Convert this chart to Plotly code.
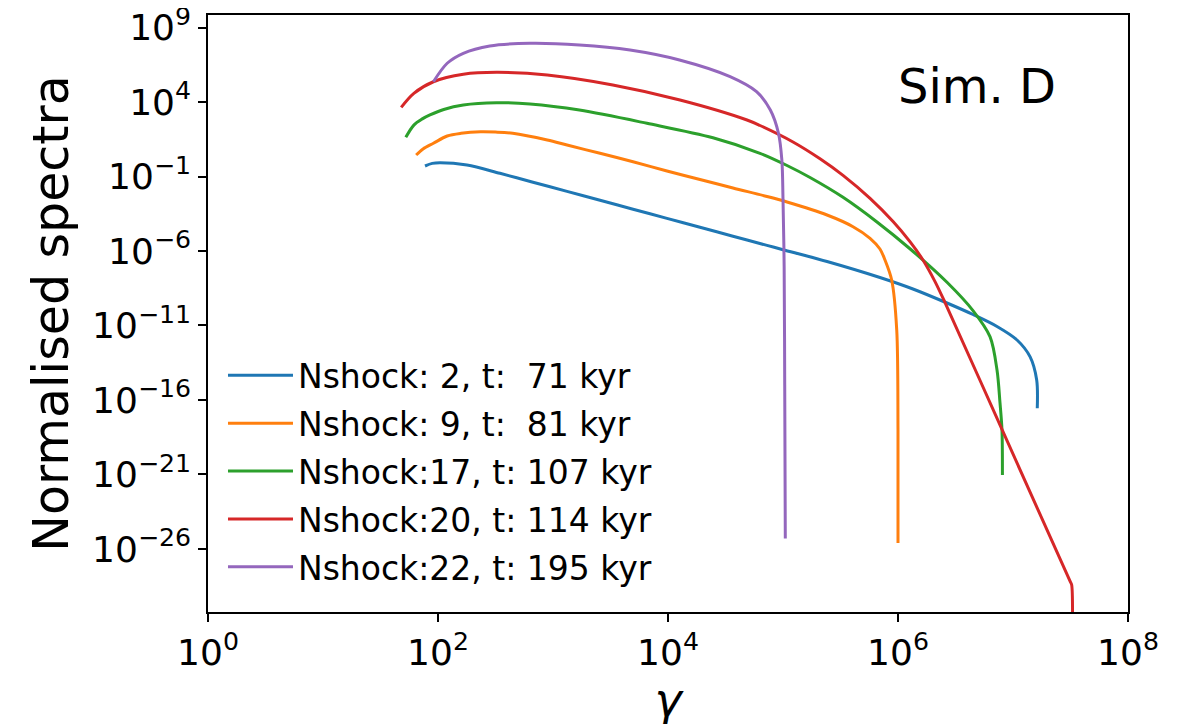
import plotly.graph_objects as go

# ---- data (log10 values) ----
labels = [
    "Nshock: 2, t:\u00a0 71 kyr",
    "Nshock: 9, t:\u00a0 81 kyr",
    "Nshock:17, t: 107 kyr",
    "Nshock:20, t: 114 kyr",
    "Nshock:22, t: 195 kyr",
]
colors = ["#1f77b4", "#ff7f0e", "#2ca02c", "#d62728", "#9467bd"]

blue_lg = [1.887, 1.95, 2.017, 2.252, 2.539, 2.826, 3.122, 3.409, 3.696, 3.991, 4.278, 4.565, 4.861, 5.0,
           5.383, 5.843, 6.130, 6.426, 6.652, 6.861, 7.035, 7.148, 7.206, 7.211]
blue_ls = [-0.295, -0.12, -0.074, -0.228, -0.785, -1.383, -2.0, -2.597, -3.195, -3.812, -4.409, -5.007, -5.624, -5.913,
           -6.705, -7.779, -8.550, -9.490, -10.262, -11.067, -11.973, -13.094, -14.658, -16.557]

orange_lg = [1.81, 1.87, 1.96, 2.08, 2.2, 2.37, 2.5, 2.65, 2.95, 3.122, 3.409, 3.696, 3.991, 4.278, 4.565, 4.861,
             5.035, 5.383, 5.609, 5.757, 5.843, 5.887, 5.945, 5.989, 6.0, 6.0]
orange_ls = [0.44, 0.85, 1.23, 1.72, 1.9, 2.0, 1.98, 1.9, 1.45, 1.114, 0.557, -0.007, -0.631, -1.201, -1.772, -2.342,
             -2.711, -3.584, -4.369, -5.148, -5.866, -6.604, -7.946, -11.3, -18.0, -25.6]

green_lg = [1.72, 1.79, 1.86, 1.93, 2.05, 2.22, 2.51, 2.80, 3.23, 3.817, 4.391, 4.800, 5.035, 5.235, 5.522, 5.817,
            6.104, 6.426, 6.652, 6.800, 6.861, 6.887, 6.904, 6.908]
green_ls = [1.63, 2.45, 2.85, 3.13, 3.5, 3.80, 3.95, 3.87, 3.46, 2.570, 1.597, 0.557, -0.262, -1.067, -2.396, -4.05,
            -5.85, -8.1, -10.0, -11.75, -13.99, -16.2, -18.0, -21.03]

red_lg = [1.68, 1.79, 1.96, 2.22, 2.51, 2.95, 3.52, 4.104, 4.687, 4.800, 5.087, 5.322, 5.522, 5.757, 5.957, 6.104,
          6.217, 6.322, 6.409, 6.91, 7.50, 7.51, 7.51]
red_ls = [3.64, 4.58, 5.36, 5.86, 5.99, 5.81, 5.14, 4.134, 2.792, 2.423, 1.315, 0.188, -0.926, -2.470, -4.027, -5.376,
          -6.604, -8.054, -9.463, -18.08, -28.23, -28.4, -35.0]

purple_lg = [1.96, 2.08, 2.22, 2.45, 2.80, 3.23, 3.67, 4.10, 4.54, 4.77, 4.89, 4.96, 4.99, 5.0, 5.01, 5.015, 5.02]
purple_ls = [5.36, 6.60, 7.27, 7.76, 7.94, 7.83, 7.49, 6.82, 5.70, 4.69, 3.46, 1.92, 0.11, -2.5, -7.05, -15.0, -25.3]

series_lg = [blue_lg, orange_lg, green_lg, red_lg, purple_lg]
series_ls = [blue_ls, orange_ls, green_ls, red_ls, purple_ls]

x_tickvals = [1e0, 1e2, 1e4, 1e6, 1e8]
x_ticktext = ["10<sup>0</sup>", "10<sup>2</sup>", "10<sup>4</sup>", "10<sup>6</sup>", "10<sup>8</sup>"]
y_exps = [9, 4, -1, -6, -11, -16, -21, -26]
y_tickvals = [10.0 ** e for e in y_exps]
y_ticktext = ["10<sup>%s</sup>" % (str(e).replace("-", "\u2212")) for e in y_exps]

FONT = "DejaVu Sans"

fig = go.Figure()
for name, col, lg, ls in zip(labels, colors, series_lg, series_ls):
    fig.add_trace(go.Scatter(
        x=[10.0 ** v for v in lg],
        y=[10.0 ** v for v in ls],
        mode="lines",
        name=name,
        legendgroup=name,
        line=dict(color=col, width=3, shape="spline", smoothing=0.9),
    ))

axis_common = dict(
    showline=True, linecolor="black", linewidth=1.5, mirror=True,
    ticks="outside", ticklen=8, tickwidth=1.5, tickcolor="black",
    showgrid=False, zeroline=False, automargin=False,
    ticklabeloverflow="allow",
    tickfont=dict(family=FONT, size=36, color="black"),
)

fig.update_xaxes(
    type="log", range=[0, 8],
    tickvals=x_tickvals, ticktext=x_ticktext,
    title=dict(text="<i>γ</i>", font=dict(family=FONT, size=46, color="black"), standoff=10),
    **axis_common,
)
fig.update_yaxes(
    type="log", range=[-30.23, 9.84],
    tickvals=y_tickvals, ticktext=y_ticktext,
    title=dict(text="Normalised spectra", font=dict(family=FONT, size=49, color="black"), standoff=8),
    **axis_common,
)

fig.add_annotation(
    text="Sim. D", xref="paper", yref="paper", x=0.9234, y=0.881,
    xanchor="right", yanchor="middle", showarrow=False,
    font=dict(family=FONT, size=48, color="black"),
)

fig.update_layout(
    width=1190, height=724,
    margin=dict(l=200, r=70, t=7, b=120),
    paper_bgcolor="white", plot_bgcolor="white",
    font=dict(family=FONT, color="black"),
    legend=dict(
        x=0.0163, y=0.4434, xanchor="left", yanchor="top",
        bgcolor="rgba(255,255,255,0)", borderwidth=0,
        font=dict(family=FONT, size=33, color="black"),
        itemwidth=65, traceorder="grouped", tracegroupgap=2,
    ),
)

fig.write_html("out.html")
